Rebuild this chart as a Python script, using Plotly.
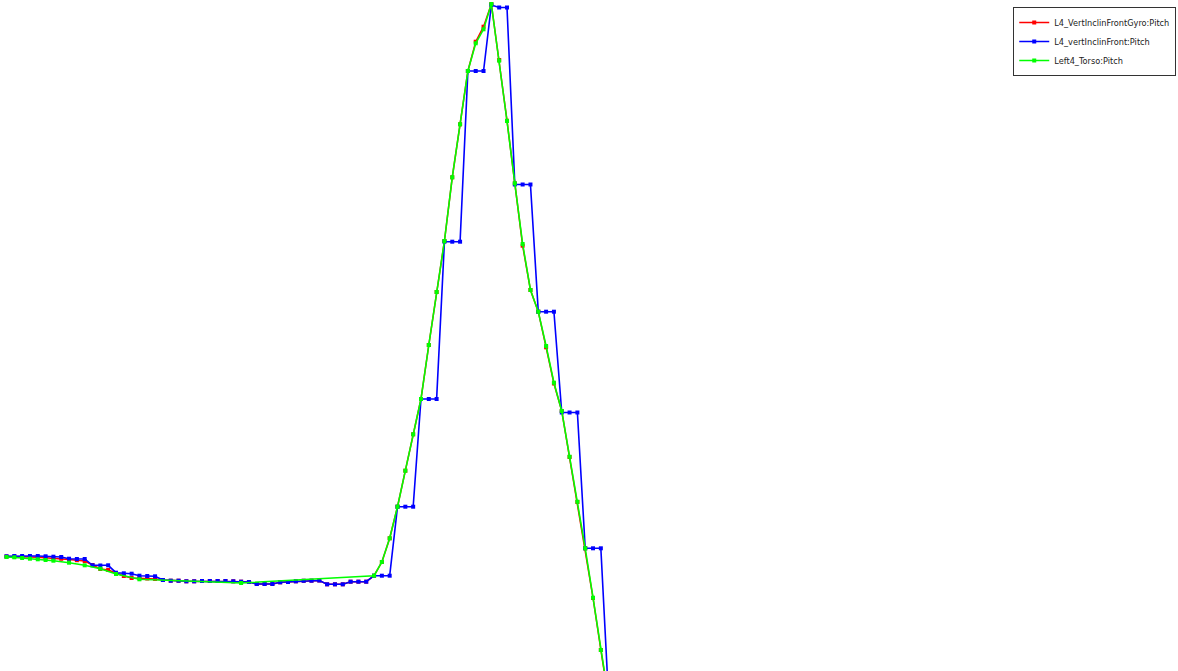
import plotly.graph_objects as go

# sample index shared by the gyro and the inclinometer
samples = list(range(79))

gyro_pitch = [
    0.35, 0.35, 0.32, 0.30, 0.27, 0.23, 0.18, 0.12, 0.05, -0.02,
    -0.10, -0.50, -0.90, -1.00, -1.30, -1.60, -1.80, -1.83, -1.85, -1.90,
    -2.00, -2.07, -2.07, -2.13, -2.13, -2.10, -2.10, -2.10, -2.10, -2.13,
    -2.17, -2.20, -2.40, -2.40, -2.40, -2.23, -2.20, -2.13, -2.08, -2.07,
    -2.05, -2.43, -2.43, -2.43, -2.17, -2.17, -2.17, -1.57, -0.20, 2.17,
    5.33, 8.93, 12.57, 16.10, 21.50, 26.80, 31.90, 38.27, 43.57, 48.90,
    51.83, 53.33, 55.60, 50.00, 43.93, 37.67, 31.43, 27.00, 24.83, 21.27,
    17.65, 14.90, 10.30, 5.80, 1.17, -3.80, -9.00, -14.00, -19.00,
]

inclin_pitch = [
    0.37, 0.40, 0.40, 0.40, 0.40, 0.37, 0.33, 0.30, 0.13, 0.10,
    0.10, -0.53, -0.55, -0.53, -1.27, -1.33, -1.37, -1.57, -1.60, -1.63,
    -2.00, -2.07, -2.07, -2.13, -2.13, -2.10, -2.10, -2.10, -2.10, -2.13,
    -2.17, -2.20, -2.40, -2.40, -2.40, -2.23, -2.20, -2.13, -2.08, -2.07,
    -2.05, -2.43, -2.43, -2.43, -2.17, -2.17, -2.17, -1.57, -1.57, -1.57,
    5.33, 5.33, 5.33, 16.10, 16.10, 16.10, 31.83, 31.83, 31.83, 48.90,
    48.90, 48.90, 55.50, 55.25, 55.25, 37.55, 37.55, 37.55, 24.83, 24.83,
    24.83, 14.75, 14.75, 14.75, 1.17, 1.17, 1.17, -14.00, -19.00,
]

# torso sensor has dropped samples
torso_samples = [0, 1, 2, 3, 4, 5, 6, 8, 10, 12, 14, 17, 30, 47, 48, 49,
                 50, 51, 52, 53, 54, 55, 56, 57, 58, 59, 60, 61, 62, 63,
                 64, 65, 66, 67, 68, 69, 70, 71, 72, 73, 74, 75, 76, 77, 78]
torso_pitch = [0.30, 0.27, 0.20, 0.13, 0.07, 0.00, -0.07, -0.27, -0.53, -0.87,
               -1.40, -1.93, -2.30, -1.57, -0.20, 2.17,
               5.33, 8.93, 12.57, 16.10, 21.50, 26.80, 31.90, 38.27, 43.57, 48.90,
               51.67, 53.07, 55.60, 49.93, 43.90, 37.67, 31.60, 27.00, 24.83, 21.40,
               17.73, 14.90, 10.33, 5.83, 1.17, -3.77, -9.00, -14.00, -19.00]

series_names = ["L4_VertInclinFrontGyro:Pitch", "L4_vertInclinFront:Pitch", "Left4_Torso:Pitch"]

fig = go.Figure()
fig.add_trace(go.Scatter(x=samples, y=gyro_pitch, name=series_names[0], mode="lines+markers",
                         line=dict(color="#ff0000", width=1.5),
                         marker=dict(color="#ff0000", size=4, symbol="square")))
fig.add_trace(go.Scatter(x=samples, y=inclin_pitch, name=series_names[1], mode="lines+markers",
                         line=dict(color="#0000ff", width=1.6),
                         marker=dict(color="#0000ff", size=4, symbol="square")))
fig.add_trace(go.Scatter(x=torso_samples, y=torso_pitch, name=series_names[2], mode="lines+markers",
                         line=dict(color="#00ff00", width=1.6),
                         marker=dict(color="#00ff00", size=4, symbol="square")))

fig.update_layout(
    width=1178, height=671,
    margin=dict(l=0, r=0, t=0, b=0),
    paper_bgcolor="white", plot_bgcolor="white",
    font=dict(family="DejaVu Sans", color="#222222"),
    xaxis=dict(range=[-0.83, 149.8], visible=False),
    yaxis=dict(range=[-11.1, 56.0], visible=False),
    showlegend=True,
    hovermode=False,
    legend=dict(x=0.9985, y=0.9896, xanchor="right", yanchor="top",
                bgcolor="white", bordercolor="#333333", borderwidth=1,
                font=dict(family="DejaVu Sans", size=8.2, color="#222222")),
)

fig.write_html("out.html",
               config={"displayModeBar": False},
               post_script="document.body.style.margin='0px';document.body.style.overflow='hidden';")
